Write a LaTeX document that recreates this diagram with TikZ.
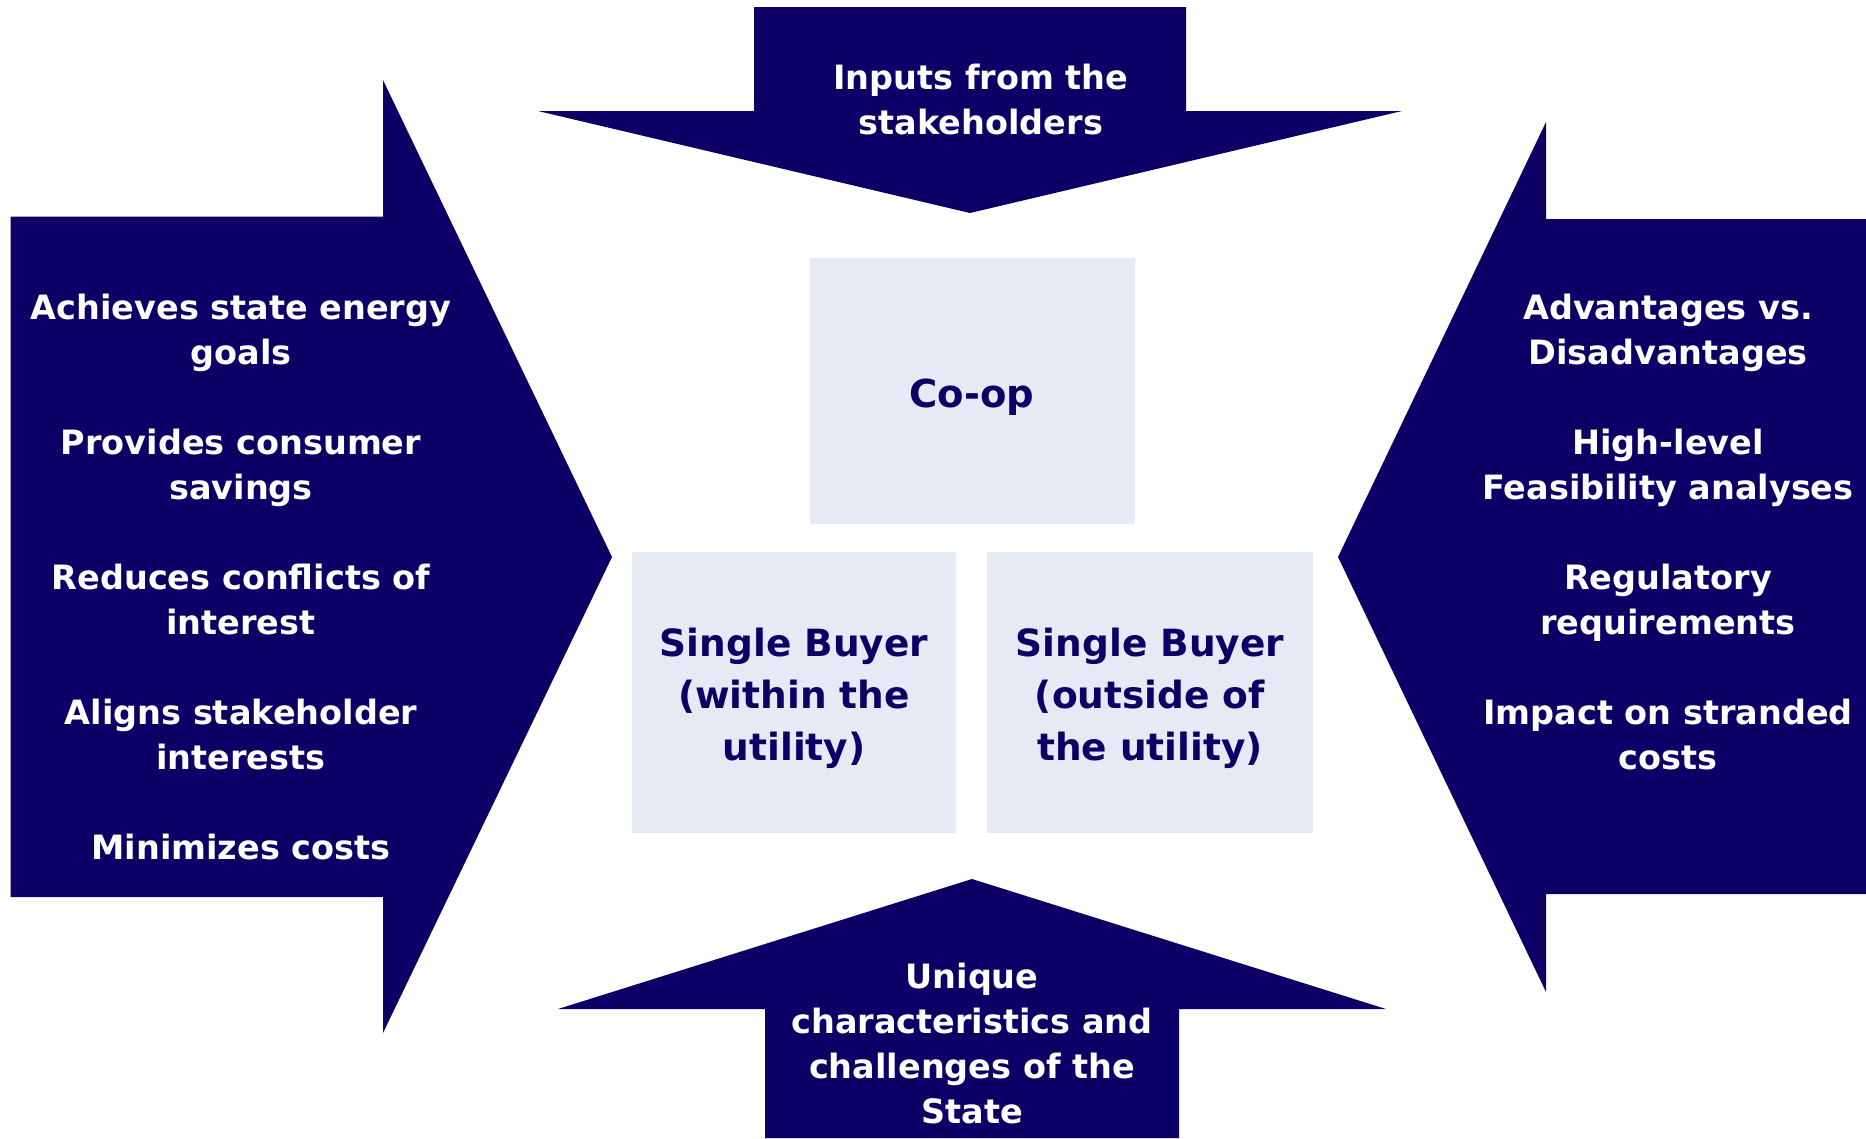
\documentclass[tikz,border=0pt]{standalone}
\usepackage{fontspec}
\setmainfont{DejaVu Sans}
\definecolor{navy}{RGB}{12,0,102}
\definecolor{lightbox}{RGB}{230,234,245}
\tikzset{
  arrowshape/.style={fill=navy, draw=none},
  optbox/.style={fill=lightbox, draw=none},
  whitetext/.style={text=white, align=center, font=\fontsize{33.5}{45}\selectfont\bfseries, inner sep=0pt},
  boxtext/.style={text=navy, align=center, font=\fontsize{37.5}{52}\selectfont\bfseries, inner sep=0pt}
}
\begin{document}
\begin{tikzpicture}[x=1pt,y=-1pt]
\useasboundingbox (0,0) rectangle (1866,1138);
% left arrow
\path[arrowshape] (10.7,216.6) -- (383,216.6) -- (383,80) -- (612,557) -- (383,1033) -- (383,897) -- (10.7,897) -- cycle;
% top arrow
\path[arrowshape] (754,7) -- (1186,7) -- (1186,111) -- (1402,111) -- (970,213) -- (538,111) -- (754,111) -- cycle;
% right arrow
\path[arrowshape] (1866,219) -- (1546,219) -- (1546,122) -- (1338,557) -- (1546,992) -- (1546,894) -- (1866,894) -- cycle;
% bottom arrow
\path[arrowshape] (765,1138) -- (765,1009) -- (558,1009) -- (972,879) -- (1386,1009) -- (1179,1009) -- (1179,1138) -- cycle;
% boxes
\path[optbox] (810,258) rectangle (1135,524);
\path[optbox] (632,552) rectangle (956,833);
\path[optbox] (987,552) rectangle (1313,833);
% texts
\node[whitetext] (lefttxt) at (241,577) {Achieves state energy\\goals\\[45pt]Provides consumer\\savings\\[45pt]Reduces conflicts of\\interest\\[45pt]Aligns stakeholder\\interests\\[45pt]Minimizes costs};
\node[whitetext] (righttxt) at (1668,532) {Advantages vs.\\Disadvantages\\[45pt]High-level\\Feasibility analyses\\[45pt]Regulatory\\requirements\\[45pt]Impact on stranded\\costs};
\node[whitetext] (toptxt) at (981,100) {Inputs from the\\stakeholders};
\node[whitetext] (bottxt) at (972,1043) {Unique\\characteristics and\\challenges of the\\State};
\node[boxtext, font=\fontsize{38.5}{52}\selectfont\bfseries] (coop) at (972,397.5) {Co-op};
\node[boxtext] (within) at (794,698.5) {Single Buyer\\(within the\\utility)};
\node[boxtext] (outside) at (1150,698.5) {Single Buyer\\(outside of\\the utility)};
\end{tikzpicture}
\end{document}
